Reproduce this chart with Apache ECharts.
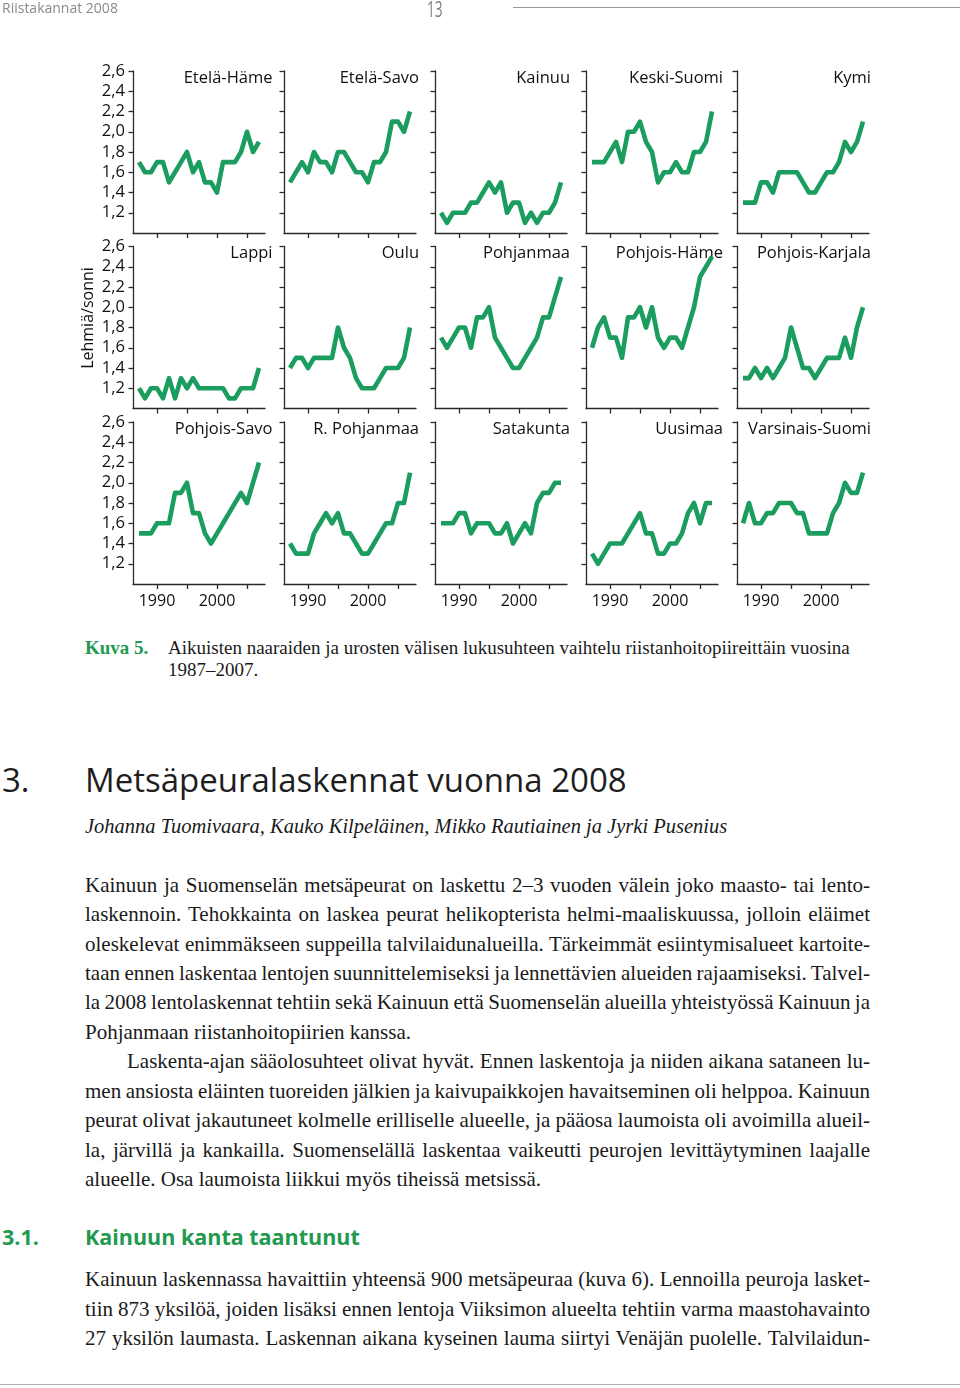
<!DOCTYPE html>
<html><head><meta charset="utf-8">
<script src="https://cdn.jsdelivr.net/npm/echarts@6/dist/echarts.min.js"></script>
<style>
html,body{margin:0;padding:0;background:#fff;}
body{width:960px;height:1388px;position:relative;overflow:hidden;}
#chart{position:absolute;left:0;top:0;width:960px;height:625px;}
.t{position:absolute;white-space:nowrap;}
.serif{font-family:"Liberation Serif","Times New Roman",serif;color:#1a1a1a;}
.sans{font-family:"Open Sans","Noto Sans",sans-serif;}
</style></head><body>
<div id="chart"></div>
<div class="t sans" style="left:2px;top:-1px;font-size:14px;line-height:18px;color:#8a8a8a;">Riistakannat 2008</div>
<div class="t sans" style="left:427px;top:-4px;font-size:22px;line-height:24px;color:#808080;transform:scaleX(0.62);transform-origin:left top;">13</div>
<div style="position:absolute;left:513px;top:7px;width:447px;height:1px;background:#9a9a9a;"></div>
<div id="text"></div>
<div style="position:absolute;left:0;top:1384px;width:960px;height:1px;background:#b0b0b0;"></div>
<script>
// ---- data ----
const years = [1987,1988,1989,1990,1991,1992,1993,1994,1995,1996,1997,1998,1999,2000,2001,2002,2003,2004,2005,2006,2007];
const etelaHame      = [1.7,1.6,1.6,1.7,1.7,1.5,1.6,1.7,1.8,1.6,1.7,1.5,1.5,1.4,1.7,1.7,1.7,1.8,2.0,1.8,1.9];
const etelaSavo      = [1.5,1.6,1.7,1.6,1.8,1.7,1.7,1.6,1.8,1.8,1.7,1.6,1.6,1.5,1.7,1.7,1.8,2.1,2.1,2.0,2.2];
const kainuu         = [1.2,1.1,1.2,1.2,1.2,1.3,1.3,1.4,1.5,1.4,1.5,1.2,1.3,1.3,1.1,1.2,1.1,1.2,1.2,1.3,1.5];
const keskiSuomi     = [1.7,1.7,1.7,1.8,1.9,1.7,2.0,2.0,2.1,1.9,1.8,1.5,1.6,1.6,1.7,1.6,1.6,1.8,1.8,1.9,2.2];
const kymi           = [1.3,1.3,1.3,1.5,1.5,1.4,1.6,1.6,1.6,1.6,1.5,1.4,1.4,1.5,1.6,1.6,1.7,1.9,1.8,1.9,2.1];
const lappi          = [1.2,1.1,1.2,1.2,1.1,1.3,1.1,1.3,1.2,1.3,1.2,1.2,1.2,1.2,1.2,1.1,1.1,1.2,1.2,1.2,1.4];
const oulu           = [1.4,1.5,1.5,1.4,1.5,1.5,1.5,1.5,1.8,1.6,1.5,1.3,1.2,1.2,1.2,1.3,1.4,1.4,1.4,1.5,1.8];
const pohjanmaa      = [1.7,1.6,1.7,1.8,1.8,1.6,1.9,1.9,2.0,1.7,1.6,1.5,1.4,1.4,1.5,1.6,1.7,1.9,1.9,2.1,2.3];
const pohjoisHame    = [1.6,1.8,1.9,1.7,1.7,1.5,1.9,1.9,2.0,1.8,2.0,1.7,1.6,1.7,1.7,1.6,1.8,2.0,2.3,2.4,2.5];
const pohjoisKarjala = [1.3,1.3,1.4,1.3,1.4,1.3,1.4,1.5,1.8,1.6,1.4,1.4,1.3,1.4,1.5,1.5,1.5,1.7,1.5,1.8,2.0];
const pohjoisSavo    = [1.5,1.5,1.5,1.6,1.6,1.6,1.9,1.9,2.0,1.7,1.7,1.5,1.4,1.5,1.6,1.7,1.8,1.9,1.8,2.0,2.2];
const rPohjanmaa     = [1.4,1.3,1.3,1.3,1.5,1.6,1.7,1.6,1.7,1.5,1.5,1.4,1.3,1.3,1.4,1.5,1.6,1.6,1.8,1.8,2.1];
const satakunta      = [1.6,1.6,1.6,1.7,1.7,1.5,1.6,1.6,1.6,1.5,1.5,1.6,1.4,1.5,1.6,1.5,1.8,1.9,1.9,2.0,2.0];
const uusimaa        = [1.3,1.2,1.3,1.4,1.4,1.4,1.5,1.6,1.7,1.5,1.5,1.3,1.3,1.4,1.4,1.5,1.7,1.8,1.6,1.8,1.8];
const varsinaisSuomi = [1.6,1.8,1.6,1.6,1.7,1.7,1.8,1.8,1.8,1.7,1.7,1.5,1.5,1.5,1.5,1.7,1.8,2.0,1.9,1.9,2.1];

const regionNames = ['Etelä-Häme','Etelä-Savo','Kainuu','Keski-Suomi','Kymi',
                     'Lappi','Oulu','Pohjanmaa','Pohjois-Häme','Pohjois-Karjala',
                     'Pohjois-Savo','R. Pohjanmaa','Satakunta','Uusimaa','Varsinais-Suomi'];
const regionValues = [etelaHame,etelaSavo,kainuu,keskiSuomi,kymi,
                      lappi,oulu,pohjanmaa,pohjoisHame,pohjoisKarjala,
                      pohjoisSavo,rPohjanmaa,satakunta,uusimaa,varsinaisSuomi];
const yTickValues = [1.2,1.4,1.6,1.8,2.0,2.2,2.4,2.6];
const xTickValues = [1990,1995,2000,2005];
const xLabelValues = [1990,2000];
const yAxisTitle = 'Lehmiä/sonni';

// ---- layout ----
const colLeft = [133,284,435,586,737];
const rowTop = [71,246.5,422];
const titleRight = [272.5,419,570,723,871];
const gw = 132, gh = 162;
const green = '#1b9d5f';
const axisColor = '#2a2a2a';
const txtColor = '#111';
const font = '"Open Sans","Noto Sans",sans-serif';

const grids=[], xAxes=[], yAxes=[], series=[], graphics=[];
regionNames.forEach((name,i)=>{
  const r = Math.floor(i/5), c = i%5;
  grids.push({left:colLeft[c], top:rowTop[r], width:gw, height:gh, containLabel:false});
  xAxes.push({type:'value', gridIndex:i, min:1986, max:2008,
    axisLine:{show:true,onZero:false,lineStyle:{color:axisColor,width:1.3}},
    axisTick:{show:true,length:5,inside:false,customValues:xTickValues,lineStyle:{color:axisColor,width:1.3}},
    axisLabel:{show:r===2,customValues:xLabelValues,margin:9,fontSize:16,color:txtColor,fontFamily:font,formatter:v=>String(v)},
    splitLine:{show:false}});
  yAxes.push({type:'value', gridIndex:i, min:1.0, max:2.6,
    axisLine:{show:true,lineStyle:{color:axisColor,width:1.3}},
    axisTick:{show:true,length:4.5,inside:false,customValues:yTickValues,lineStyle:{color:axisColor,width:1.3}},
    axisLabel:{show:c===0,customValues:yTickValues,margin:8,fontSize:16.5,color:txtColor,fontFamily:font,
      formatter:v=>Number(v).toFixed(1).replace('.',',')},
    splitLine:{show:false}});
  series.push({type:'line', xAxisIndex:i, yAxisIndex:i, name:name,
    data: years.map((y,k)=>[y, regionValues[i][k]]),
    showSymbol:false, symbol:'none', clip:false, silent:true,
    lineStyle:{width:4.6,color:green,join:'round',cap:'butt'}, itemStyle:{color:green}});
  graphics.push({type:'text', x:titleRight[c], y:rowTop[r]+7, silent:true,
    style:{text:name, fill:txtColor, font:'16.5px '+font, textAlign:'right', textVerticalAlign:'middle'}});
});
graphics.push({type:'text', x:88, y:318, rotation:Math.PI/2, silent:true,
  style:{text:yAxisTitle, fill:txtColor, font:'16px '+font, textAlign:'center', textVerticalAlign:'middle'}});

const chart = echarts.init(document.getElementById('chart'));
chart.setOption({animation:false, grid:grids, xAxis:xAxes, yAxis:yAxes, series:series, graphic:graphics});

// ---- page text ----
const host = document.getElementById('text');
function addLine(html, left, cy, opts){
  const d = document.createElement('div');
  d.className = 't ' + (opts.cls||'serif');
  const lh = opts.lh || 24;
  d.style.left = left+'px';
  d.style.top = (cy - lh/2)+'px';
  d.style.fontSize = opts.size+'px';
  d.style.lineHeight = lh+'px';
  if(opts.color) d.style.color = opts.color;
  if(opts.weight) d.style.fontWeight = opts.weight;
  if(opts.italic) d.style.fontStyle = 'italic';
  const s = document.createElement('span');
  s.innerHTML = html;
  d.appendChild(s);
  if(opts.jw){ d.dataset.jw = opts.jw; d.classList.add('jline'); }
  host.appendChild(d);
}
const capGreen = '#22994f';
addLine('Kuva 5.', 85, 648, {size:19, weight:'bold', color:capGreen});
addLine('Aikuisten naaraiden ja urosten välisen lukusuhteen vaihtelu riistanhoitopiireittäin vuosina', 168, 648, {size:19});
addLine('1987–2007.', 168, 670, {size:19});
addLine('3.', 2, 780, {size:33, cls:'sans', color:'#1e1e1e', lh:40});
addLine('Metsäpeuralaskennat vuonna 2008', 85, 780, {size:33, cls:'sans', color:'#1e1e1e', lh:40});
addLine('Johanna Tuomivaara, Kauko Kilpeläinen, Mikko Rautiainen ja Jyrki Pusenius', 85, 826, {size:20.5, italic:true});

const body = [
  ['Kainuun ja Suomenselän metsäpeurat on laskettu 2–3 vuoden välein joko maasto- tai lento-', 85, 885, true],
  ['laskennoin. Tehokkainta on laskea peurat helikopterista helmi-maaliskuussa, jolloin eläimet', 85, 914.5, true],
  ['oleskelevat enimmäkseen suppeilla talvilaidunalueilla. Tärkeimmät esiintymisalueet kartoite-', 85, 944, true],
  ['taan ennen laskentaa lentojen suunnittelemiseksi ja lennettävien alueiden rajaamiseksi. Talvel-', 85, 973, true],
  ['la 2008 lentolaskennat tehtiin sekä Kainuun että Suomenselän alueilla yhteistyössä Kainuun ja', 85, 1002.5, true],
  ['Pohjanmaan riistanhoitopiirien kanssa.', 85, 1032, false],
  ['Laskenta-ajan sääolosuhteet olivat hyvät. Ennen laskentoja ja niiden aikana sataneen lu-', 127, 1061.5, true],
  ['men ansiosta eläinten tuoreiden jälkien ja kaivupaikkojen havaitseminen oli helppoa. Kainuun', 85, 1091, true],
  ['peurat olivat jakautuneet kolmelle erilliselle alueelle, ja pääosa laumoista oli avoimilla alueil-', 85, 1120.5, true],
  ['la, järvillä ja kankailla. Suomenselällä laskentaa vaikeutti peurojen levittäytyminen laajalle', 85, 1150, true],
  ['alueelle. Osa laumoista liikkui myös tiheissä metsissä.', 85, 1179.5, false],
  ['Kainuun laskennassa havaittiin yhteensä 900 metsäpeuraa (kuva 6). Lennoilla peuroja lasket-', 85, 1279.5, true],
  ['tiin 873 yksilöä, joiden lisäksi ennen lentoja Viiksimon alueelta tehtiin varma maastohavainto', 85, 1309, true],
  ['27 yksilön laumasta. Laskennan aikana kyseinen lauma siirtyi Venäjän puolelle. Talvilaidun-', 85, 1338.5, true]
];
body.forEach(([tx,l,cy,j])=>addLine(tx, l, cy, {size:21, lh:29, jw: j ? (870-l) : 0}));

addLine('3.1.', 2, 1237, {size:21.5, cls:'sans', weight:'bold', color:capGreen, lh:28});
addLine('Kainuun kanta taantunut', 85, 1237, {size:21.5, cls:'sans', weight:'bold', color:capGreen, lh:28});

function justify(){
  document.querySelectorAll('.jline').forEach(d=>{
    const s = d.firstChild;
    s.style.wordSpacing = '0px';
    const w = s.getBoundingClientRect().width;
    const target = parseFloat(d.dataset.jw);
    const n = (s.textContent.match(/ /g)||[]).length;
    if(n>0) s.style.wordSpacing = ((target - w)/n)+'px';
  });
}
justify();
if(document.fonts && document.fonts.ready) document.fonts.ready.then(justify);
</script>
</body></html>
